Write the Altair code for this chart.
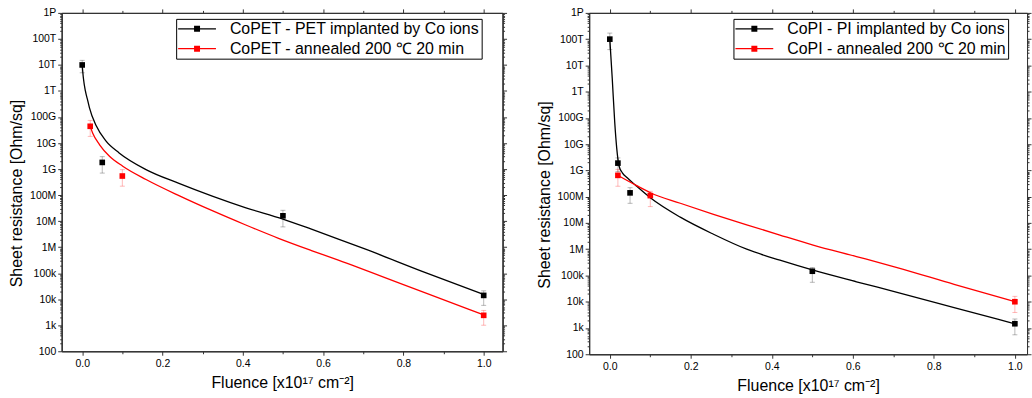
import altair as alt
import pandas as pd

# ---------------- data ----------------
# Left panel: CoPET
L_series = ["CoPET - PET implanted by Co ions", "CoPET - annealed 200 \u2103 20 min"]
L_black_x = [0.0, 0.05, 0.5, 1.0]
L_black_y = [1.0e13, 1.8e9, 1.6e7, 1.4e4]
L_black_lo = [5.0e12, 7.0e8, 6.0e6, 5.8e3]
L_black_hi = [1.5e13, 3.0e9, 2.6e7, 2.1e4]
L_red_x = [0.02, 0.1, 1.0]
L_red_y = [4.4e10, 5.4e8, 2.4e3]
L_red_lo = [1.8e10, 2.2e8, 1.0e3]
L_red_hi = [7.4e10, 9.5e8, 3.7e3]
L_fit_black_x = [0.0, 0.003, 0.008, 0.014, 0.018, 0.035, 0.059, 0.092, 0.159, 0.241, 0.324, 0.406, 0.5, 0.571, 0.638, 0.704, 0.85, 1.0]
L_fit_black_log = [13.0, 12.5, 12.0, 11.62, 11.36, 10.66, 10.08, 9.62, 8.98, 8.45, 7.96, 7.52, 7.08, 6.69, 6.31, 5.93, 5.05, 4.18]
L_fit_red_x = [0.02, 0.026, 0.043, 0.068, 0.101, 0.159, 0.241, 0.324, 0.406, 0.489, 0.571, 0.638, 0.8, 0.96, 1.0]
L_fit_red_log = [10.64, 10.39, 9.94, 9.49, 9.11, 8.60, 7.98, 7.40, 6.86, 6.34, 5.87, 5.50, 4.56, 3.63, 3.40]

# Right panel: CoPI
R_series = ["CoPI - PI implanted by Co ions", "CoPI - annealed 200 \u2103 20 min"]
R_black_x = [0.0, 0.02, 0.05, 0.5, 1.0]
R_black_y = [1.0e14, 1.9e9, 1.4e8, 1.45e5, 1.45e3]
R_black_lo = [4.0e13, 9.0e8, 5.6e7, 5.5e4, 5.5e2]
R_black_hi = [1.7e14, 3.0e9, 2.2e8, 2.0e5, 2.2e3]
R_red_x = [0.02, 0.1, 1.0]
R_red_y = [6.5e8, 1.1e8, 1.0e4]
R_red_lo = [2.5e8, 4.2e7, 3.9e3]
R_red_hi = [1.1e9, 1.6e8, 1.6e4]
R_fit_black_x = [0.0, 0.006, 0.012, 0.017, 0.023, 0.031, 0.043, 0.064, 0.1, 0.174, 0.256, 0.338, 0.42, 0.502, 0.609, 0.707, 0.85, 1.0]
R_fit_black_log = [14.0, 12.51, 10.87, 9.86, 9.16, 8.91, 8.72, 8.43, 7.96, 7.22, 6.57, 6.0, 5.58, 5.2, 4.76, 4.37, 3.78, 3.16]
R_fit_red_x = [0.02, 0.064, 0.1, 0.174, 0.256, 0.338, 0.42, 0.502, 0.609, 0.707, 0.85, 1.0]
R_fit_red_log = [8.81, 8.44, 8.15, 7.75, 7.33, 6.93, 6.54, 6.16, 5.72, 5.31, 4.66, 4.0]

# axis ticks / labels
x_major = [0.0, 0.2, 0.4, 0.6, 0.8, 1.0]
x_minor = [0.1, 0.3, 0.5, 0.7, 0.9]
y_tick_labels = ["100", "1k", "10k", "100k", "1M", "10M", "100M", "1G", "10G", "100G", "1T", "10T", "100T", "1P"]
y_major = [10.0 ** k for k in range(2, 16)]
y_minor = [m * 10.0 ** k for k in range(2, 15) for m in range(2, 10)]

X_TITLE = "Fluence [x10\u00b9\u2077 cm\u207b\u00b2]"
Y_TITLE = "Sheet resistance [Ohm/sq]"
FONT = "Liberation Sans"
label_expr = "[" + ",".join("'%s'" % s for s in y_tick_labels) + "][round(log(datum.value)/LN10)-2]"

# legend symbol: short line with a square marker in the middle (unit = 8 px at size 256)
SYMBOL = "M-2.375,-0.075H2.375V0.075H-2.375Z M-0.375,-0.375H0.375V0.375H-0.375Z"


def points_df(series, bx, by, blo, bhi, rx, ry, rlo, rhi):
    rows = []
    for x, y, lo, hi in zip(bx, by, blo, bhi):
        rows.append(dict(series=series[0], x=x, y=y, lo=lo, hi=hi))
    for x, y, lo, hi in zip(rx, ry, rlo, rhi):
        rows.append(dict(series=series[1], x=x, y=y, lo=lo, hi=hi))
    return pd.DataFrame(rows)


def fit_df(series, bx, blog, rx, rlog):
    rows = []
    for x, l in zip(bx, blog):
        rows.append(dict(series=series[0], x=x, y=10.0 ** l))
    for x, l in zip(rx, rlog):
        rows.append(dict(series=series[1], x=x, y=10.0 ** l))
    return pd.DataFrame(rows)


def panel(series, pts, fit, xdom, w, h, legx, legy, legpad):
    xs = alt.Scale(domain=xdom, nice=False, zero=False)
    ys = alt.Scale(type="log", domain=[1e2, 1e15], nice=False)
    cs = alt.Scale(domain=series, range=["black", "red"])
    # same mapping, listed in the other order (keeps the disabled stroke/fill guides apart from the legend)
    cs_rev = alt.Scale(domain=series[::-1], range=["red", "black"])

    ax_common = dict(grid=False, domainColor="#333", tickColor="#333", labelColor="black",
                     labelFont=FONT, labelFontSize=10.5, titleFont=FONT, titleFontSize=16,
                     titleFontWeight="normal", titleColor="black")

    bottom_major = alt.Axis(orient="bottom", values=x_major, format=".1f", tickSize=4, labelPadding=3,
                            title=X_TITLE, titleY=36, titleBaseline="alphabetic", labelFlush=False, **ax_common)
    bottom_minor = alt.Axis(orient="bottom", values=x_minor, tickSize=2.5, labels=False, title=None, **ax_common)
    top_major = alt.Axis(orient="top", values=x_major, tickSize=4, labels=False, title=None, **ax_common)
    top_minor = alt.Axis(orient="top", values=x_minor, tickSize=2.5, labels=False, title=None, **ax_common)

    left_major = alt.Axis(orient="left", values=y_major, labelExpr=label_expr, tickSize=4, labelPadding=2,
                          title=Y_TITLE, titleX=-45, titleY=h / 2 + 11, titleAngle=270,
                          titleAlign="center", titleBaseline="middle", labelFlush=False, **ax_common)
    left_minor = alt.Axis(orient="left", values=y_minor, tickSize=2, labels=False, title=None, **ax_common)
    right_major = alt.Axis(orient="right", values=y_major, tickSize=4, labels=False, title=None, **ax_common)
    right_minor = alt.Axis(orient="right", values=y_minor, tickSize=2, labels=False, title=None, **ax_common)

    base_pts = alt.Chart(pts)

    ax1 = base_pts.mark_point(opacity=0).encode(
        x=alt.X("x:Q", scale=xs, axis=bottom_major), y=alt.Y("y:Q", scale=ys, axis=left_major))
    ax2 = base_pts.mark_point(opacity=0).encode(
        x=alt.X("x:Q", scale=xs, axis=bottom_minor), y=alt.Y("y:Q", scale=ys, axis=left_minor))
    ax3 = base_pts.mark_point(opacity=0).encode(
        x=alt.X("x:Q", scale=xs, axis=top_major), y=alt.Y("y:Q", scale=ys, axis=right_major))
    ax4 = base_pts.mark_point(opacity=0).encode(
        x=alt.X("x:Q", scale=xs, axis=top_minor), y=alt.Y("y:Q", scale=ys, axis=right_minor))

    stroke = alt.Stroke("series:N", scale=cs_rev, legend=None)
    err = base_pts.mark_rule(strokeWidth=1, strokeOpacity=0.28).encode(
        x=alt.X("x:Q", scale=xs, axis=None),
        y=alt.Y("lo:Q", scale=ys, axis=None), y2="hi:Q", stroke=stroke)
    cap_lo = base_pts.mark_tick(orient="horizontal", size=5, thickness=1, opacity=0.28).encode(
        x=alt.X("x:Q", scale=xs, axis=None), y=alt.Y("lo:Q", scale=ys, axis=None),
        fill=alt.Fill("series:N", scale=cs_rev, legend=None))
    cap_hi = base_pts.mark_tick(orient="horizontal", size=5, thickness=1, opacity=0.28).encode(
        x=alt.X("x:Q", scale=xs, axis=None), y=alt.Y("hi:Q", scale=ys, axis=None),
        fill=alt.Fill("series:N", scale=cs_rev, legend=None))

    lines = alt.Chart(fit).mark_line(strokeWidth=1.3, interpolate="monotone").encode(
        x=alt.X("x:Q", scale=xs, axis=None), y=alt.Y("y:Q", scale=ys, axis=None),
        stroke=stroke, order="x:Q")

    legend = alt.Legend(orient="none", legendX=legx, legendY=legy, title=None,
                        symbolType=SYMBOL, symbolSize=256, symbolStrokeWidth=0, symbolOpacity=1,
                        symbolOffset=11, labelOffset=25,
                        labelExpr="datum.label + '" + "\u00a0" * legpad + "'",
                        labelFont=FONT, labelFontSize=16, labelColor="black", labelLimit=400,
                        padding=2, strokeColor="black", fillColor="white", rowPadding=4,
                        cornerRadius=0, direction="vertical")
    squares = base_pts.mark_square(size=32, filled=True, opacity=1).encode(
        x=alt.X("x:Q", scale=xs, axis=None), y=alt.Y("y:Q", scale=ys, axis=None),
        color=alt.Color("series:N", scale=cs, legend=legend))

    return alt.layer(ax1, ax2, ax3, ax4, err, cap_lo, cap_hi, lines, squares).resolve_axis(
        x="independent", y="independent").properties(width=w, height=h)


left = panel(L_series,
             points_df(L_series, L_black_x, L_black_y, L_black_lo, L_black_hi, L_red_x, L_red_y, L_red_lo, L_red_hi),
             fit_df(L_series, L_fit_black_x, L_fit_black_log, L_fit_red_x, L_fit_red_log),
             [-0.051, 1.047], 443, 340, 115, 6, 4)
right = panel(R_series,
              points_df(R_series, R_black_x, R_black_y, R_black_lo, R_black_hi, R_red_x, R_red_y, R_red_lo, R_red_hi),
              fit_df(R_series, R_fit_black_x, R_fit_black_log, R_fit_red_x, R_fit_red_log),
              [-0.051, 1.03], 440, 343, 145, 6, 9)

chart = alt.hconcat(left, right, spacing=87, bounds="flush").resolve_scale(
    color="independent", stroke="independent", fill="independent", x="independent", y="independent"
).resolve_legend(color="independent").properties(
    padding={"left": 8, "top": 6, "right": 0, "bottom": 0},
    background="white",
).configure_view(stroke="#333", strokeWidth=1)

chart.save("out.html", embed_options={"renderer": "svg", "actions": False})
